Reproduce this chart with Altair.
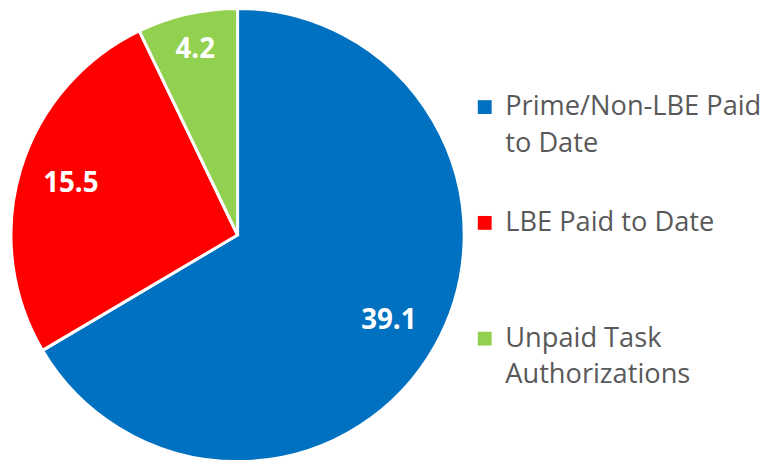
import altair as alt
import pandas as pd

categories = ["Prime/Non-LBE Paid to Date", "LBE Paid to Date", "Unpaid Task Authorizations"]
values = [39.1, 15.5, 4.2]
colors = ["#0070C0", "#FF0000", "#92D050"]

df = pd.DataFrame({"category": categories, "value": values, "order": [0, 1, 2]})

label_expr = (
    "datum.label == 'Prime/Non-LBE Paid to Date' ? ['Prime/Non-LBE Paid', 'to Date'] : "
    "datum.label == 'Unpaid Task Authorizations' ? ['Unpaid Task', 'Authorizations'] : "
    "[datum.label, ' ']"
)

CX, CY, R = 232, 227, 229

base = (
    alt.Chart(df)
    .transform_stack(stack="value", as_=["v0", "v1"], groupby=[], sort=[alt.SortField("order")])
    .transform_calculate(mid="(datum.v0 + datum.v1) / 2")
    .encode(x=alt.value(CX), y=alt.value(CY))
)

pie = base.mark_arc(radius=R, stroke="white", strokeWidth=3).encode(
    theta=alt.Theta("v0:Q", scale=alt.Scale(domain=[0, sum(values)])),
    theta2="v1:Q",
    color=alt.Color(
        "category:N",
        scale=alt.Scale(domain=categories, range=colors),
        sort=categories,
        legend=alt.Legend(
            title=None,
            orient="none",
            legendX=468,
            legendY=84,
            symbolType="square",
            symbolSize=196,
            symbolStrokeWidth=0,
            labelFont="Open Sans",
            labelFontSize=27.5,
            labelColor="#595959",
            labelExpr=label_expr,
            labelLimit=400,
            labelOffset=7,
            rowPadding=51,
            padding=0,
        ),
    ),
)

text_style = dict(font="Open Sans", fontSize=28, fontWeight="bold", color="white")

text_main = base.mark_text(radius=176, **text_style).encode(
    theta=alt.Theta("mid:Q"),
    text=alt.Text("value:Q", format=".1f"),
).transform_filter(alt.datum.order < 2)

text_small = base.mark_text(radius=192, **text_style).encode(
    theta=alt.Theta("mid:Q"),
    text=alt.Text("value:Q", format=".1f"),
).transform_filter(alt.datum.order == 2)

chart = (
    (pie + text_main + text_small)
    .properties(
        width=766,
        height=454,
        padding=0,
        autosize=alt.AutoSizeParams(type="none"),
    )
    .configure(style={"guide-label": {"lineHeight": 37}})
    .configure_view(stroke=None)
)

chart.save("out.html", embed_options={"renderer": "svg", "actions": False})
